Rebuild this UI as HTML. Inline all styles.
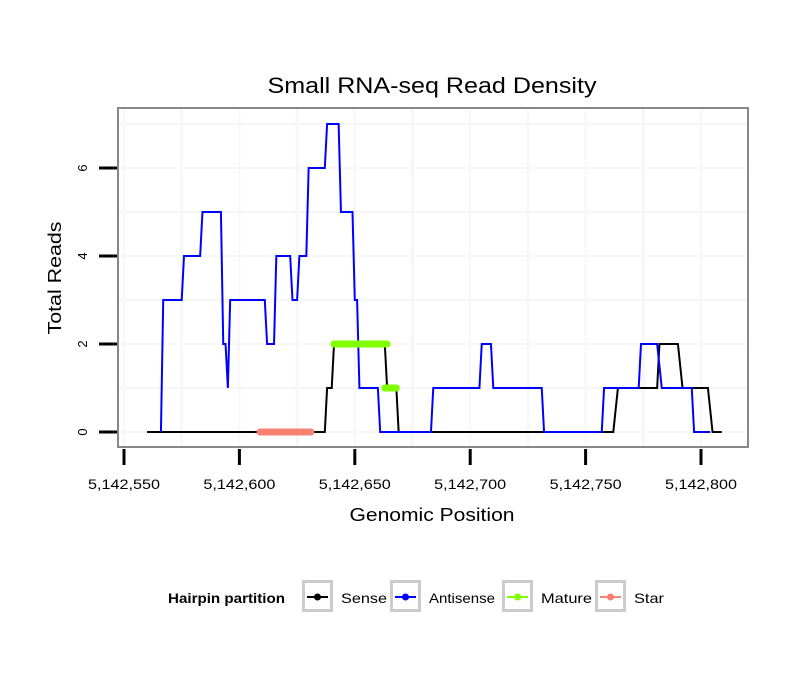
<!DOCTYPE html>
<html><head><meta charset="utf-8"><style>
body{margin:0;background:#fff;}
svg{display:block;font-family:"Liberation Sans",sans-serif;}
</style></head><body>
<svg id="chart" width="810" height="690">
<rect width="810" height="690" fill="#fff"/>
<text x="432" y="93" font-size="22" text-anchor="middle" textLength="329" lengthAdjust="spacingAndGlyphs">Small RNA-seq Read Density</text>
<g id="grid"></g>
<g id="series"></g>
<rect x="118" y="108" width="630" height="339" fill="none" stroke="#888" stroke-width="2"/>
<g id="axes"></g>
<text x="432" y="521" font-size="18" text-anchor="middle" textLength="165" lengthAdjust="spacingAndGlyphs">Genomic Position</text>
<text transform="translate(61,278) rotate(-90)" font-size="18" text-anchor="middle" textLength="113" lengthAdjust="spacingAndGlyphs">Total Reads</text>
<g>
<text x="168" y="603" font-size="14" font-weight="bold" textLength="117" lengthAdjust="spacingAndGlyphs">Hairpin partition</text>
<g id="legend"></g>
</g>
</svg>
<script>
const blueX=[566,567,575,576,583,584,592,593,594,595,596,611,612,615,616,622,623,625,626,629,630,637,638,643,644,649,650,651,652,660,661,683,684,704,705,709,710,731,732,757,758,773,774,781,783,796,797,804];
const blueY=[0,3,3,4,4,5,5,2,2,1,3,3,2,2,4,4,3,3,4,4,6,6,7,7,5,5,3,3,1,1,0,0,1,1,2,2,1,1,0,0,1,1,2,2,1,1,0,0];
const blackX=[560,637,638,640,641,663,664,668,669,762,764,781,782,790,792,803,805,809];
const blackY=[0,0,1,1,2,2,1,1,0,0,1,1,2,2,1,1,0,0];
const matureSegs=[[641,664,2],[663,668,1]];
const starSegs=[[609,631,0]];
const xTicks=[5142550,5142600,5142650,5142700,5142750,5142800];
const yTicks=[0,2,4,6];
const base=5142000;
const NS="http://www.w3.org/2000/svg";
function sx(p){return 124+(p+(p<100000?base:0)-5142550)*2.308;}
function sy(v){return 432-v*44;}
function mk(tag,attrs,parent){const e=document.createElementNS(NS,tag);for(const k in attrs)e.setAttribute(k,attrs[k]);parent.appendChild(e);return e;}
const grid=document.getElementById('grid'),ser=document.getElementById('series'),axes=document.getElementById('axes'),leg=document.getElementById('legend');
for(let v=0;v<=7;v++){const l=mk('line',{x1:118,x2:748,y1:sy(v),y2:sy(v),stroke:'#f7f7f7','stroke-width':v%2?3:2},grid);

}
for(let p=5142550;p<=5142800;p+=25){const l=mk('line',{x1:sx(p),x2:sx(p),y1:108,y2:447,stroke:'#f7f7f7','stroke-width':(p%50)?3:2},grid);

}
function poly(xs,ys,color,name){const pts=xs.map((x,i)=>sx(x)+','+sy(ys[i])).join(' ');
const e=mk('polyline',{points:pts,fill:'none',stroke:color,'stroke-width':2,'stroke-linejoin':'miter'},ser);

}
poly(blackX,blackY,'#000','sense-line');
poly(blueX,blueY,'#0000ff','antisense-line');
matureSegs.forEach(s=>{const e=mk('line',{x1:sx(s[0]),x2:sx(s[1]),y1:sy(s[2]),y2:sy(s[2]),stroke:'#7fff00','stroke-width':7,'stroke-linecap':'round'},ser);

});
starSegs.forEach(s=>{const e=mk('line',{x1:sx(s[0]),x2:sx(s[1]),y1:sy(s[2]),y2:sy(s[2]),stroke:'#fa8072','stroke-width':7,'stroke-linecap':'round'},ser);

});
yTicks.forEach(v=>{const t=mk('line',{x1:99,x2:117,y1:sy(v),y2:sy(v),stroke:'#000','stroke-width':3},axes);


const tx=mk('text',{transform:`translate(87,${sy(v)}) rotate(-90)`,'font-size':13,'text-anchor':'middle'},axes);tx.textContent=v;

});
xTicks.forEach(p=>{const x=sx(p);const t=mk('line',{x1:x,x2:x,y1:449,y2:465,stroke:'#000','stroke-width':3},axes);


const tx=mk('text',{x:x,y:489,'font-size':14,'text-anchor':'middle',textLength:72,lengthAdjust:'spacingAndGlyphs'},axes);tx.textContent=p.toLocaleString('en-US');

});
const legItems=[['Sense','#000',302,341,46],['Antisense','#0000ff',390,429,66],['Mature','#7fff00',502,541,51],['Star','#fa8072',595,634,30]];
legItems.forEach(it=>{const g=mk('g',{},leg);


mk('rect',{x:it[2]+1.5,y:581.5,width:28,height:29,fill:'#fff',stroke:'#ccc','stroke-width':3},g);
mk('line',{x1:it[2]+5,x2:it[2]+26,y1:597,y2:597,stroke:it[1],'stroke-width':2},g);
mk('circle',{cx:it[2]+15.5,cy:597,r:3.5,fill:it[1]},g);
const tx=mk('text',{x:it[3],y:603,'font-size':14,textLength:it[4],lengthAdjust:'spacingAndGlyphs'},g);tx.textContent=it[0];});
</script>
</body></html>
